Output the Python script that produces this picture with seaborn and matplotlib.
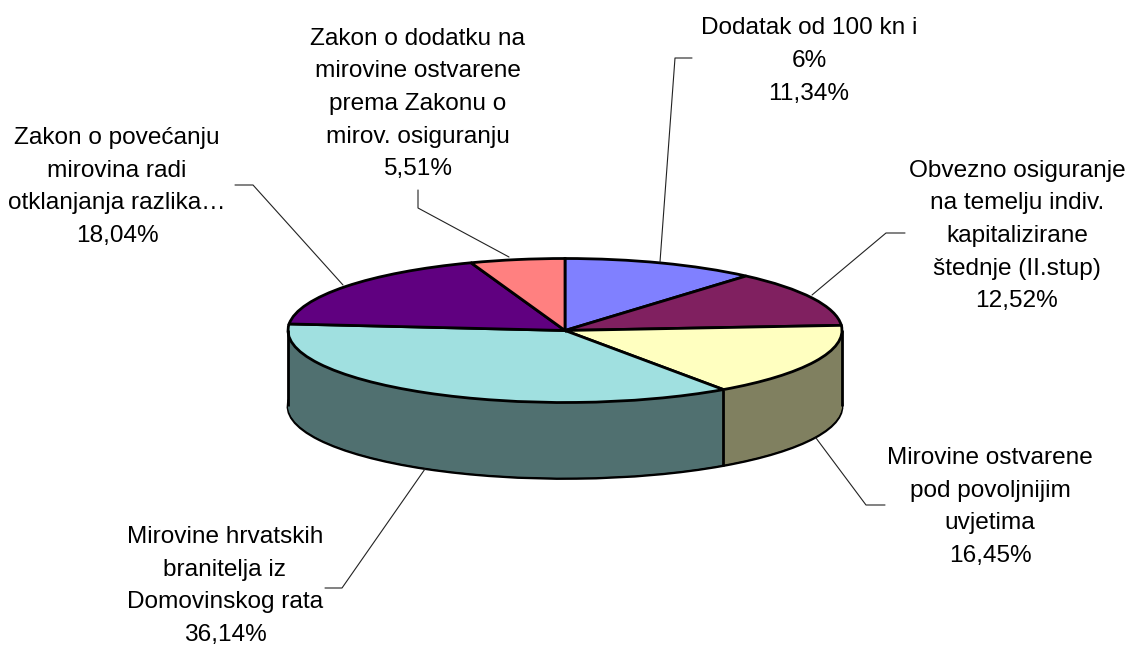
#!/usr/bin/env python3

import numpy as np
import matplotlib
matplotlib.use('Agg')
import matplotlib.pyplot as plt
import seaborn as sns

labels = ['Dodatak od 100 kn i\n6%',
          'Obvezno osiguranje\nna temelju indiv.\nkapitalizirane\nštednje (II.stup)',
          'Mirovine ostvarene\npod povoljnijim\nuvjetima',
          'Mirovine hrvatskih\nbranitelja iz\nDomovinskog rata',
          'Zakon o povećanju\nmirovina radi\notklanjanja razlika…',
          'Zakon o dodatku na\nmirovine ostvarene\nprema Zakonu o\nmirov. osiguranju']
shares = [11.34, 12.52, 16.45, 36.14, 18.04, 5.51]
top_colors = ['#8080ff', '#802060', '#ffffc0', '#a0e0e0', '#600080', '#ff8080']

# label centres and leader lines, in picture pixels
label_pos = [(809, 61), (1017, 236), (990, 507), (225, 586), (117, 187), (418, 104)]
leaders = [[(692, 58), (675, 58), (660, 262)],
           [(905, 233), (886, 233), (812, 295)],
           [(885, 505), (866, 505), (816, 438)],
           [(325, 588), (342, 588), (425, 469)],
           [(235, 185), (253, 185), (343, 285)],
           [(418, 190), (418, 208), (509, 257)]]

W, H = 1129, 646
CX, CY = 565, 330.5
RX, RY = 277, 72
DEPTH = 76


def to_data(px, py):
    return (px - CX) / RX, (CY - py) / RY


def draw_layer(ax, offset, colors, edge=False):
    ax.pie(shares, colors=colors, startangle=90, counterclock=False,
           center=(0, -offset / RY), radius=1,
           wedgeprops={'edgecolor': 'black' if edge else 'none',
                       'linewidth': 2 if edge else 0})


if __name__ == '__main__':
    sns.set_theme(style='white')
    plt.rcParams['font.family'] = ['Liberation Sans', 'DejaVu Sans']

    fig = plt.figure(figsize=(W / 100, H / 100), dpi=100)
    ax = fig.add_axes([0, 0, 1, 1])

    palette = sns.color_palette(top_colors)
    wall_colors = [tuple(np.array(c) * 0.5) for c in palette]

    # side wall is a stack of pies, bottom one carries the outline
    draw_layer(ax, DEPTH, wall_colors, edge=True)
    for offset in range(DEPTH - 1, 0, -1):
        draw_layer(ax, offset, wall_colors)
    draw_layer(ax, 0, palette, edge=True)

    ax.set_aspect('auto')
    ax.set_xlim(to_data(0, 0)[0], to_data(W, 0)[0])
    ax.set_ylim(to_data(0, H)[1], to_data(0, 0)[1])
    ax.axis('off')

    # vertical edges on the front of the wall
    bounds = np.cumsum(shares)[:-1] / 100 * 2 * np.pi
    front = [a for a in bounds if np.cos(a) < 0] + [np.pi / 2, 3 * np.pi / 2]
    for a in front:
        x, y = np.sin(a), np.cos(a)
        ax.plot([x, x], [y, y - DEPTH / RY], color='black', lw=2,
                solid_capstyle='butt')

    for pts in leaders:
        xy = np.array([to_data(*p) for p in pts])
        ax.plot(xy[:, 0], xy[:, 1], color='#222222', lw=0.8)

    for label, share, pos in zip(labels, shares, label_pos):
        text = label + '\n' + f'{share:.2f}'.replace('.', ',') + '%'
        x, y = to_data(*pos)
        ax.text(x, y, text, ha='center', va='center', fontsize=17.6,
                linespacing=1.63, color='black')

    fig.savefig('out.png', dpi=100)
